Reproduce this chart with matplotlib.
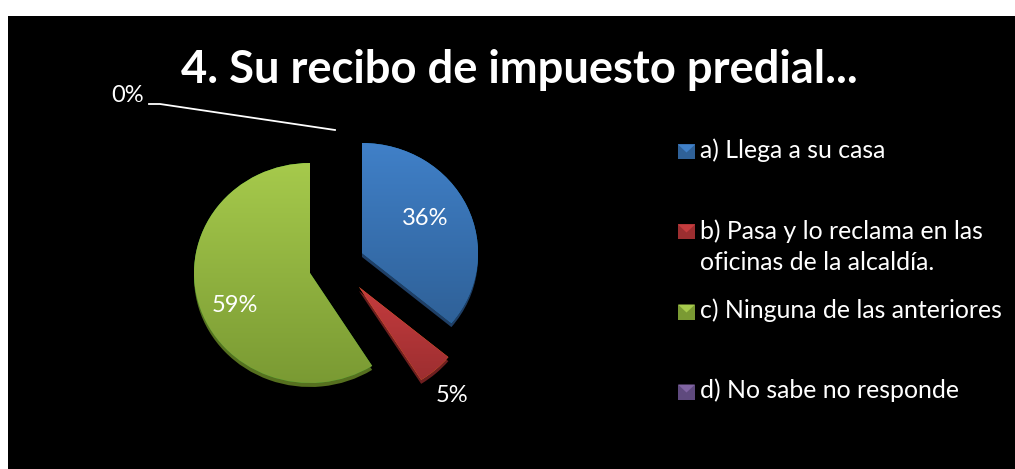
import numpy as np
import matplotlib
matplotlib.use("Agg")
import matplotlib.pyplot as plt
from matplotlib.patches import Wedge, Rectangle, Polygon
from matplotlib.colors import LinearSegmentedColormap

title = "4. Su recibo de impuesto predial..."
categories = ["a) Llega a su casa", "b) Pasa y lo reclama en las\noficinas de la alcaldía.",
              "c) Ninguna de las anteriores", "d) No sabe no responde"]
values = [36, 5, 59, 0]
pct_labels = ["36%", "5%", "59%", "0%"]

W, H = 1015, 469
FONT = "Lato"
top_cols = ["#4080C8", "#C53C3E", "#A6CA4C", "#8064A2"]
bot_cols = ["#2F6198", "#9C2E30", "#7A9A33", "#5F4A7E"]
side_cols = ["#1F3F66", "#6E1F20", "#56701F", "#3F3154"]

# layout in pixels
RX, RY = 116, 110
OX, OY = 340, 268
apex_px = [(362, 253), (359, 287), (310, 273), (340, 250)]
y_span = [(144, 322), (287, 382), (163, 384), (150, 250)]
label_px = [(425, 218), (452, 396), (235, 305), (128, 95)]
legend_y_px = [152, 232, 312, 392]
legend_text_x = 700
DEPTH = 4

fig = plt.figure(figsize=(W / 100, H / 100), dpi=100, facecolor="white")
ax = fig.add_axes([0, 0, 1, 1])
wedges, _ = ax.pie(values, startangle=90, counterclock=False, radius=1, frame=True,
                   wedgeprops=dict(linewidth=0))
ax.set_xticks([]); ax.set_yticks([])
for s in ax.spines.values():
    s.set_visible(False)
ax.set_facecolor("white")

def X(px): return (px - OX) / RX
def Y(py): return (OY - py) / RY

ax.add_patch(Rectangle((X(8), Y(H)), (W - 8) / RX, (H - 16) / RY, fc="black", ec="none", zorder=0))

for w, v, apex, span, tc, bc, sc in zip(wedges, values, apex_px, y_span, top_cols, bot_cols, side_cols):
    c = (X(apex[0]), Y(apex[1]))
    w.set_center(c)
    w.set_zorder(2)
    if v == 0:
        w.set_visible(False)
        continue
    side = Wedge((c[0], c[1] - DEPTH / RY), 1, w.theta1, w.theta2, fc=sc, ec="none", zorder=1)
    ax.add_patch(side)
    cmap = LinearSegmentedColormap.from_list("g", [tc, bc])
    grad = np.linspace(0, 1, 256).reshape(-1, 1)
    im = ax.imshow(grad, cmap=cmap, aspect="auto", zorder=3, interpolation="bilinear",
                   extent=(c[0] - 1.1, c[0] + 1.1, Y(span[1]), Y(span[0])))
    im.set_clip_path(w)

ax.set_aspect("auto")
ax.set_xlim(-OX / RX, (W - OX) / RX)
ax.set_ylim((OY - H) / RY, OY / RY)

ax.text(X(519), Y(83), title, color="white", fontsize=32.7, fontweight="bold", family=FONT,
        ha="center", va="baseline", zorder=5)

for (x, y), t in zip(label_px, pct_labels):
    ax.text(X(x), Y(y), t, color="white", fontsize=17, family=FONT, ha="center", va="center", zorder=5)

lx = [149, 160, 335]
ly = [104, 104, 130]
ax.plot([X(p) for p in lx], [Y(p) for p in ly], color="white", lw=1.3, zorder=5)

LINE = 31
for y, cat, tc, bc, sc in zip(legend_y_px, categories, top_cols, bot_cols, side_cols):
    x0, x1, y0, y1 = 678, 695, y - 7.5, y + 7.5
    ax.add_patch(Rectangle((X(x0), Y(y1)), (x1 - x0) / RX, (y1 - y0) / RY, fc=bc, ec="none", zorder=4))
    ax.add_patch(Polygon([(X(x0), Y(y0)), (X(x1), Y(y0)), (X((x0 + x1) / 2), Y(y0 + 8))],
                         fc=tc, ec="none", zorder=5))
    for i, line in enumerate(cat.split("\n")):
        ax.text(X(legend_text_x), Y(y + 6.5 + i * LINE), line, color="white", fontsize=17.9,
                family=FONT, ha="left", va="baseline", zorder=5)

fig.savefig("out.png", dpi=100, facecolor="white")
